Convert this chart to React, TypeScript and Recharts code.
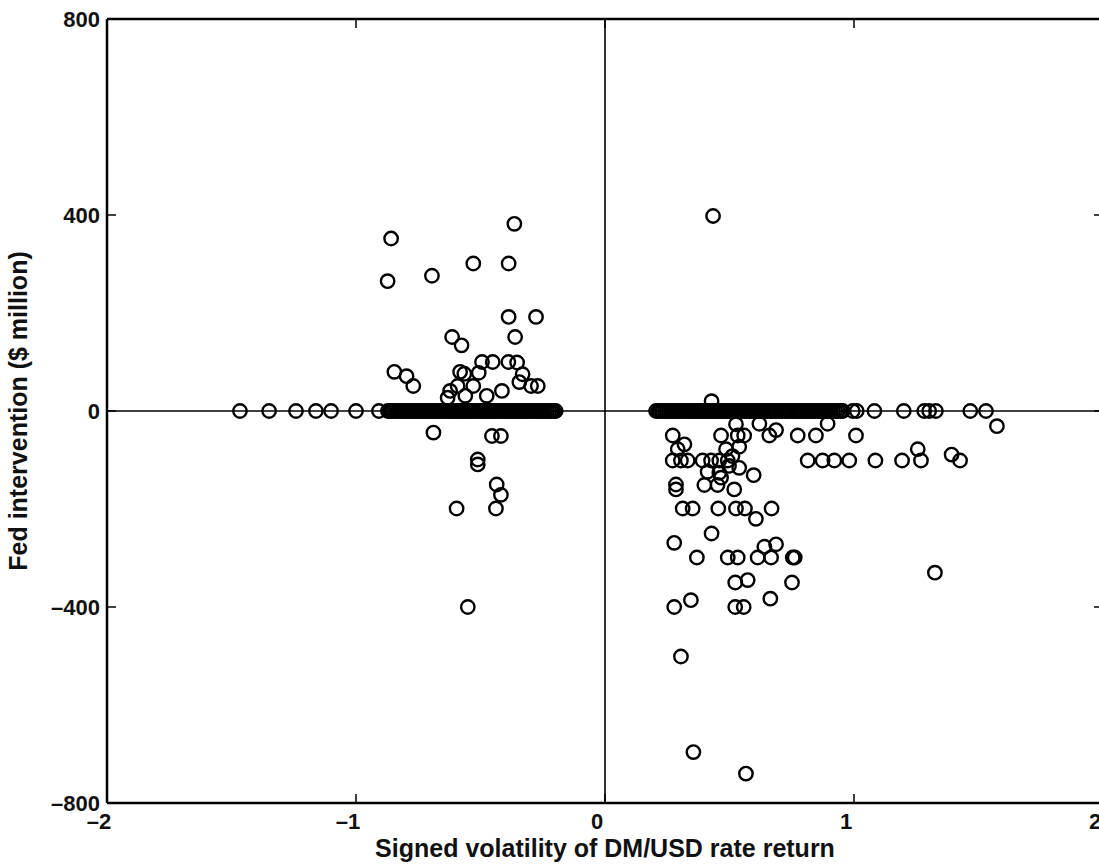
import { ScatterChart, Scatter, XAxis, YAxis, ReferenceLine } from 'recharts';

// zero-intervention days (dense band on the horizontal axis)
const zeroLeftX = [
  -1.466, -1.349, -1.241, -1.161, -1.1, -1.0, -0.908,
  -0.872, -0.864, -0.856, -0.847, -0.838, -0.83, -0.821, -0.812, -0.804, -0.795, -0.786, -0.778,
  -0.769, -0.76, -0.752, -0.743, -0.734, -0.726, -0.717, -0.708, -0.7, -0.691, -0.682, -0.674,
  -0.665, -0.656, -0.648, -0.639, -0.63, -0.622, -0.613, -0.604, -0.596, -0.587, -0.578, -0.57,
  -0.561, -0.552, -0.544, -0.535, -0.526, -0.518, -0.509, -0.5, -0.492, -0.483, -0.474, -0.466,
  -0.457, -0.448, -0.44, -0.431, -0.422, -0.414, -0.405, -0.396, -0.388, -0.379, -0.37, -0.362,
  -0.353, -0.344, -0.336, -0.327, -0.318, -0.31, -0.301, -0.292, -0.284, -0.275, -0.266, -0.258,
  -0.249, -0.24, -0.232, -0.223, -0.214, -0.206, -0.198,
];

const zeroRightX = [
  0.205, 0.214, 0.222, 0.231, 0.24, 0.248, 0.257, 0.266, 0.274, 0.283, 0.292, 0.3, 0.309, 0.318,
  0.326, 0.335, 0.344, 0.352, 0.361, 0.37, 0.378, 0.387, 0.396, 0.404, 0.413, 0.422, 0.43, 0.439,
  0.448, 0.456, 0.465, 0.474, 0.482, 0.491, 0.5, 0.508, 0.517, 0.526, 0.534, 0.543, 0.552, 0.56,
  0.569, 0.578, 0.586, 0.595, 0.604, 0.612, 0.621, 0.63, 0.638, 0.647, 0.656, 0.664, 0.673, 0.682,
  0.69, 0.699, 0.708, 0.716, 0.725, 0.734, 0.742, 0.751, 0.76, 0.768, 0.777, 0.786, 0.794, 0.803,
  0.812, 0.82, 0.829, 0.838, 0.846, 0.855, 0.864, 0.872, 0.881, 0.89, 0.898, 0.907, 0.916, 0.925,
  0.935, 0.946, 0.955,
  0.995, 1.011, 1.082, 1.2, 1.282, 1.302, 1.329, 1.467, 1.53,
];

// [signed volatility, intervention] for non-zero days
const leftPoints: [number, number][] = [
  [-0.859, 352], [-0.873, 265], [-0.695, 276], [-0.529, 301], [-0.364, 382], [-0.387, 301],
  [-0.387, 192], [-0.277, 192], [-0.361, 151], [-0.614, 151], [-0.576, 134], [-0.846, 80],
  [-0.797, 71], [-0.77, 51], [-0.582, 80], [-0.565, 76], [-0.507, 78], [-0.494, 100],
  [-0.451, 100], [-0.388, 100], [-0.353, 99], [-0.331, 75], [-0.344, 59], [-0.297, 51],
  [-0.27, 51], [-0.414, 41], [-0.475, 31], [-0.529, 51], [-0.561, 31], [-0.622, 41],
  [-0.632, 27], [-0.592, 51],
  [-0.689, -44], [-0.454, -51], [-0.418, -51], [-0.511, -99], [-0.511, -109], [-0.435, -150],
  [-0.418, -171], [-0.596, -199], [-0.438, -199], [-0.551, -400],
];

const rightPoints: [number, number][] = [
  [0.428, 20], [0.434, 398],
  [0.272, -50], [0.319, -68], [0.292, -78],
  [0.272, -101], [0.305, -101], [0.332, -101], [0.392, -101], [0.426, -101], [0.459, -101], [0.493, -101],
  [0.466, -50], [0.526, -27], [0.533, -50], [0.559, -50], [0.62, -26], [0.66, -50], [0.687, -39],
  [0.774, -50], [0.847, -50], [0.894, -26], [1.008, -50], [1.574, -31],
  [0.814, -101], [0.874, -101], [0.921, -101], [0.981, -101], [1.086, -101], [1.193, -101],
  [1.269, -101], [1.426, -101], [1.256, -78], [1.392, -89],
  [0.486, -78], [0.512, -92], [0.498, -112], [0.539, -73], [0.539, -116], [0.597, -131],
  [0.412, -124], [0.459, -126], [0.466, -136], [0.399, -151], [0.452, -151], [0.519, -160],
  [0.285, -150], [0.285, -160],
  [0.312, -199], [0.352, -199], [0.455, -199], [0.526, -199], [0.562, -199], [0.669, -199],
  [0.606, -220], [0.428, -250], [0.278, -269],
  [0.369, -299], [0.493, -299], [0.533, -299], [0.613, -299], [0.667, -299], [0.754, -299], [0.762, -299],
  [0.64, -277], [0.687, -272],
  [0.523, -350], [0.573, -345], [0.751, -350], [0.278, -400], [0.345, -386], [0.523, -400],
  [0.557, -400], [0.664, -383], [1.325, -330], [0.305, -501], [0.355, -696], [0.566, -740],
];

const xTicks = [-2, -1, 0, 1, 2];
const yTicks = [-800, -400, 0, 400, 800];

const data = [
  ...zeroLeftX.map((x) => ({ x, y: 0 })),
  ...zeroRightX.map((x) => ({ x, y: 0 })),
  ...leftPoints.map(([x, y]) => ({ x, y })),
  ...rightPoints.map(([x, y]) => ({ x, y })),
];

const W = 1113;
const H = 866;
const PLOT_TOP = 19;
const PLOT_BOTTOM = 803;
const PLOT_LEFT = 107;
const PLOT_RIGHT = 1103;
const FONT = '"Liberation Sans", Arial, Helvetica, sans-serif';

const fmt = (v: number) => String(v).replace('-', '\u2013');

function XTick(props: any) {
  const { x, payload } = props;
  return (
    <g>
      <line x1={x} x2={x} y1={PLOT_BOTTOM} y2={PLOT_BOTTOM - 9} stroke="#000" strokeWidth={1.5} />
      <line x1={x} x2={x} y1={PLOT_TOP} y2={PLOT_TOP + 9} stroke="#000" strokeWidth={1.5} />
      <text x={x - 8} y={PLOT_BOTTOM + 26} textAnchor="middle" fontFamily={FONT} fontWeight="bold" fontSize={22} fill="#111">
        {fmt(payload.value)}
      </text>
    </g>
  );
}

function YTick(props: any) {
  const { y, payload } = props;
  return (
    <g>
      <line x1={PLOT_LEFT} x2={PLOT_LEFT + 9} y1={y} y2={y} stroke="#000" strokeWidth={1.5} />
      <line x1={PLOT_RIGHT - 9} x2={PLOT_RIGHT} y1={y} y2={y} stroke="#000" strokeWidth={1.5} />
      <text x={PLOT_LEFT - 7} y={y + 8} textAnchor="end" fontFamily={FONT} fontWeight="bold" fontSize={22} fill="#111">
        {fmt(payload.value)}
      </text>
    </g>
  );
}

function XLabel(props: any) {
  const vb = props.viewBox || {};
  return (
    <text x={vb.x + vb.width / 2} y={857} textAnchor="middle" fontFamily={FONT} fontWeight="bold" fontSize={25} fill="#111">
      Signed volatility of DM/USD rate return
    </text>
  );
}

function YLabel(props: any) {
  const vb = props.viewBox || {};
  const cy = vb.y + vb.height / 2;
  return (
    <text
      x={27}
      y={cy}
      transform={`rotate(-90 27 ${cy})`}
      textAnchor="middle"
      fontFamily={FONT}
      fontWeight="bold"
      fontSize={25}
      fill="#111"
    >
      Fed intervention ($ million)
    </text>
  );
}

const Ring = (props: any) => (
  <circle cx={props.cx} cy={props.cy} r={6.7} fill="none" stroke="#000" strokeWidth={2.4} />
);

export default function App() {
  return (
    <div style={{ position: 'fixed', left: 0, top: 0, width: 1099, height: H, overflow: 'hidden', background: '#fff' }}>
      <ScatterChart
        width={W}
        height={H}
        margin={{ top: PLOT_TOP, right: W - PLOT_RIGHT, bottom: 0, left: 0 }}
      >
        <XAxis
          type="number"
          dataKey="x"
          domain={[-2, 2]}
          ticks={xTicks}
          height={H - PLOT_BOTTOM}
          tickSize={0}
          tick={<XTick />}
          axisLine={{ stroke: '#000', strokeWidth: 2.5 }}
          label={<XLabel />}
        />
        <YAxis
          type="number"
          dataKey="y"
          domain={[-800, 800]}
          ticks={yTicks}
          width={PLOT_LEFT}
          tickSize={0}
          tick={<YTick />}
          axisLine={{ stroke: '#000', strokeWidth: 2.5 }}
          label={<YLabel />}
        />
        <ReferenceLine y={800} stroke="#000" strokeWidth={2.5} />
        <ReferenceLine x={2} stroke="#000" strokeWidth={2.5} />
        <ReferenceLine y={0} stroke="#000" strokeWidth={1.6} />
        <ReferenceLine x={0} stroke="#000" strokeWidth={1.6} />
        <Scatter data={data} shape={Ring} isAnimationActive={false} />
      </ScatterChart>
    </div>
  );
}
